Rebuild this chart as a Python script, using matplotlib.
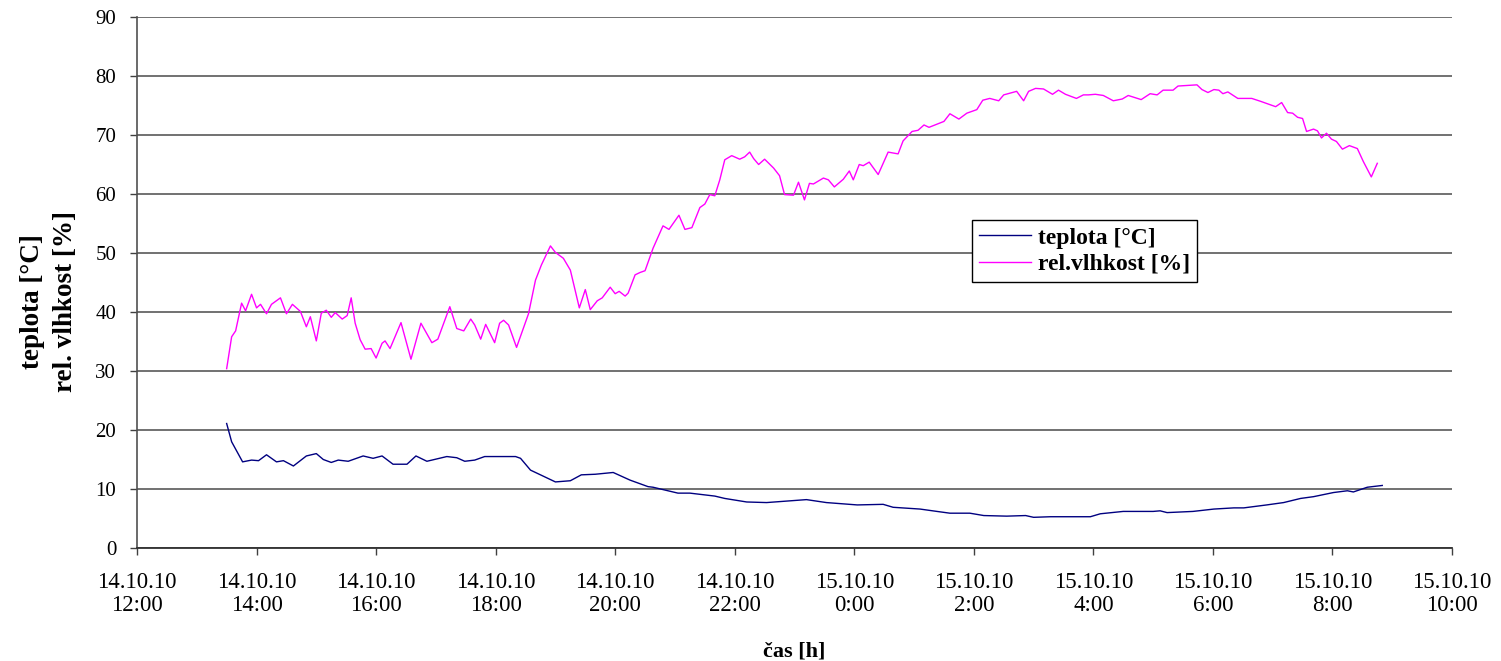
import numpy as np
import matplotlib.pyplot as plt

plt.rcParams['font.family'] = ['Liberation Serif', 'DejaVu Serif']

# minutes since 14.10.10 12:00
hum_min = [90, 95, 99, 105, 109, 115, 120, 124, 130, 135, 144, 150, 156, 164, 170, 174,
           180, 185, 190, 195, 199, 206, 211, 215, 219, 224, 229, 235, 240, 246, 249, 254,
           265, 275, 285, 296, 302, 314, 321, 328, 335, 339, 345, 350, 359, 364, 368, 373,
           381, 393, 400, 406, 415, 420, 428, 435, 444, 450, 455, 462, 467, 475, 480, 484,
           490, 493, 500, 505, 510, 518, 528, 534, 544, 550, 557, 565, 570, 575, 580, 585,
           590, 597, 605, 610, 615, 619, 624, 630, 639, 645, 650, 659, 664, 670, 675, 679,
           689, 694, 700, 709, 715, 719, 725, 729, 735, 744, 754, 764, 769, 778, 784, 790,
           795, 810, 816, 825, 833, 843, 849, 856, 865, 870, 883, 890, 895, 902, 910, 919,
           925, 932, 943, 950, 955, 962, 970, 980, 989, 995, 1008, 1017, 1024, 1030, 1040,
           1045, 1064, 1069, 1075, 1081, 1086, 1090, 1095, 1105, 1119, 1128, 1143, 1149,
           1155, 1160, 1165, 1170, 1174, 1181, 1185, 1189, 1194, 1199, 1204, 1210, 1217,
           1225, 1231, 1239, 1245]
hum_val = [30.4, 35.8, 36.8, 41.5, 40.2, 43.0, 40.7, 41.3, 39.7, 41.3, 42.4, 39.7, 41.3, 40.1, 37.5, 39.2,
           35.1, 39.8, 40.3, 39.1, 39.9, 38.8, 39.4, 42.4, 38.1, 35.3, 33.7, 33.8, 32.2, 34.7, 35.1, 33.8,
           38.2, 32.0, 38.1, 34.8, 35.4, 40.9, 37.2, 36.8, 38.8, 37.8, 35.4, 37.9, 34.8, 38.1, 38.6, 37.8,
           34.0, 39.7, 45.4, 48.0, 51.2, 50.1, 49.1, 47.1, 40.7, 43.8, 40.4, 41.9, 42.4, 44.2, 43.1, 43.5,
           42.7, 43.2, 46.3, 46.7, 47.0, 50.8, 54.6, 54.0, 56.4, 54.0, 54.3, 57.7, 58.3, 59.9, 59.7, 62.4,
           65.8, 66.5, 65.9, 66.3, 67.1, 66.0, 65.0, 65.9, 64.4, 63.1, 59.9, 59.8, 62.0, 59.0, 61.8, 61.7,
           62.7, 62.4, 61.2, 62.5, 63.9, 62.4, 65.0, 64.8, 65.4, 63.3, 67.1, 66.8, 69.0, 70.6, 70.8, 71.7,
           71.3, 72.3, 73.6, 72.7, 73.7, 74.3, 75.9, 76.2, 75.8, 76.8, 77.4, 75.8, 77.4, 77.9, 77.8, 76.9,
           77.6, 76.9, 76.2, 76.8, 76.8, 76.9, 76.7, 75.8, 76.1, 76.7, 76.0, 77.0, 76.8, 77.6, 77.6,
           78.3, 78.5, 77.7, 77.2, 77.7, 77.6, 77.0, 77.3, 76.2, 76.2, 75.7, 74.8, 75.5,
           73.8, 73.7, 73.0, 72.8, 70.6, 71.0, 70.7, 69.5, 70.3, 69.3, 68.9, 67.6, 68.2,
           67.7, 65.5, 62.9, 65.2]

temp_min = [90, 95, 106, 115, 122, 130, 140, 147, 157, 170, 180, 187, 195, 202, 212, 227,
            237, 246, 257, 271, 280, 291, 311, 321, 329, 339, 349, 380, 385, 395, 405, 420,
            435, 446, 460, 478, 495, 513, 518, 543, 555, 580, 590, 612, 632, 656, 672, 692,
            723, 749, 759, 786, 803, 816, 836, 850, 873, 892, 900, 917, 927, 957, 967, 990,
            1020, 1027, 1034, 1060, 1081, 1101, 1111, 1134, 1151, 1168, 1181, 1201, 1215,
            1221, 1235, 1250]
temp_val = [21.1, 18.0, 14.6, 14.9, 14.8, 15.8, 14.6, 14.8, 13.9, 15.6, 16.0, 15.0, 14.5, 14.9, 14.7, 15.6,
            15.2, 15.6, 14.2, 14.2, 15.6, 14.7, 15.5, 15.3, 14.7, 14.9, 15.5, 15.5, 15.2, 13.2, 12.4, 11.2,
            11.4, 12.4, 12.5, 12.8, 11.5, 10.4, 10.3, 9.3, 9.3, 8.8, 8.4, 7.8, 7.7, 8.0, 8.2, 7.7,
            7.3, 7.4, 6.9, 6.6, 6.2, 5.9, 5.9, 5.5, 5.4, 5.5, 5.2, 5.3, 5.3, 5.3, 5.8, 6.2,
            6.2, 6.3, 6.0, 6.2, 6.6, 6.8, 6.8, 7.3, 7.7, 8.4, 8.7, 9.4, 9.7,
            9.5, 10.3, 10.6]

tick_min = list(range(0, 1321, 120))
tick_labels = ['14.10.10\n12:00', '14.10.10\n14:00', '14.10.10\n16:00', '14.10.10\n18:00',
               '14.10.10\n20:00', '14.10.10\n22:00', '15.10.10\n0:00', '15.10.10\n2:00',
               '15.10.10\n4:00', '15.10.10\n6:00', '15.10.10\n8:00', '15.10.10\n10:00']

fig = plt.figure(figsize=(15.01, 6.61), dpi=100)
ax = fig.add_axes([137/1501, 1-548/661, 1315/1501, 531/661])

ax.plot(temp_min, temp_val, color='#000080', lw=1.0, label='teplota [°C]')
ax.plot(hum_min, hum_val, color='#FF00FF', lw=1.0, label='rel.vlhkost [%]')

ax.set_xlim(0, 1320)
ax.set_ylim(0, 90)
ax.set_yticks(np.arange(0, 91, 10))
ax.set_xticks(tick_min)
ax.set_xticklabels(tick_labels, linespacing=1.15)
ax.tick_params(axis='both', direction='out', length=5, width=1, color='#404040')
ax.tick_params(axis='x', labelsize=16.5, pad=12)
ax.tick_params(axis='y', labelsize=15, pad=10)
ax.yaxis.grid(True, color='#666666', lw=1.3)
ax.set_axisbelow(True)
for s in ['top', 'right']:
    ax.spines[s].set_visible(False)
ax.spines['left'].set_color('#505050')
ax.spines['bottom'].set_color('#303030')
ax.spines['left'].set_linewidth(1.2)
ax.spines['bottom'].set_linewidth(1.3)

ax.set_xlabel('čas [h]', fontsize=16, fontweight='bold', labelpad=18)
fig.text(49/1501, 1-302/661, 'teplota [°C]\nrel. vlhkost [%]', rotation=90,
         ha='center', va='center', multialignment='center',
         fontsize=19.5, fontweight='bold', linespacing=1.4)

leg = ax.legend(loc='upper left', bbox_to_anchor=((972-137)/1315, (548-220)/531),
                borderaxespad=0, fancybox=False, framealpha=1, edgecolor='black',
                prop={'size': 17, 'weight': 'bold'},
                handlelength=2.2, borderpad=0.3, labelspacing=0.2, handletextpad=0.3)
leg.get_frame().set_linewidth(1.0)

fig.savefig('out.png', dpi=100)
